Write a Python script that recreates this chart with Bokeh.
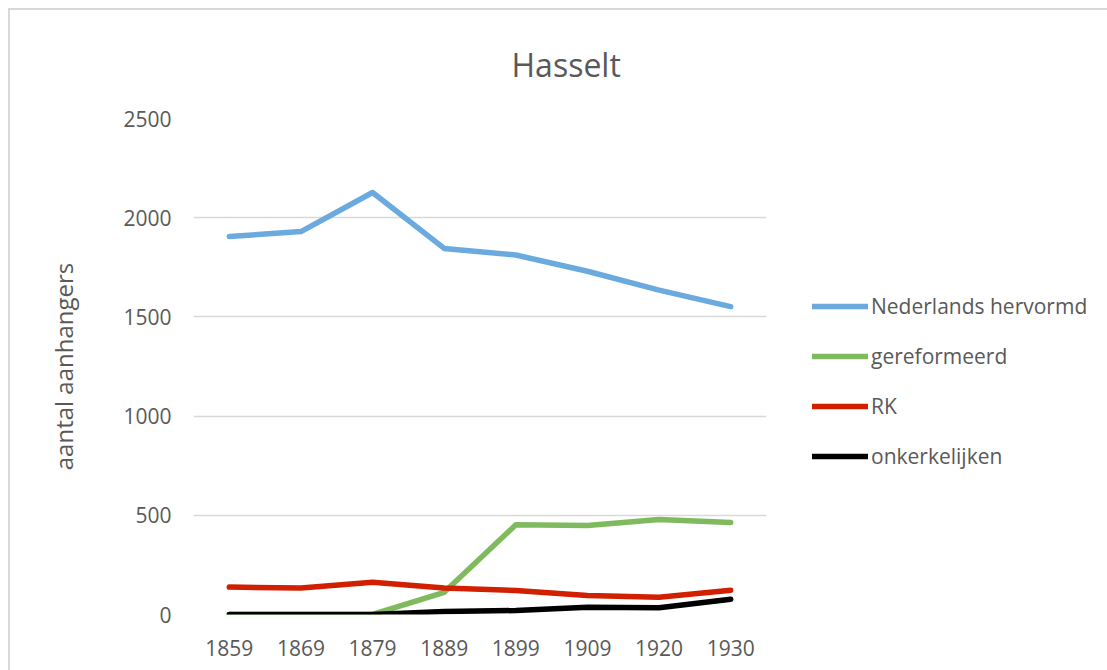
from bokeh.plotting import figure
from bokeh.models import FactorRange, Range1d, FixedTicker, Legend, LegendItem, Title
from bokeh.embed import file_html
from bokeh.resources import INLINE

years = ["1859", "1869", "1879", "1889", "1899", "1909", "1920", "1930"]
nederlands_hervormd = [1905, 1930, 2127, 1845, 1812, 1730, 1635, 1552]
gereformeerd = [0, 0, 0, 112, 452, 449, 479, 464]
rk = [138, 133, 163, 133, 121, 96, 87, 122]
onkerkelijken = [0, 0, 0, 15, 20, 37, 34, 77]
y_ticks = [0, 500, 1000, 1500, 2000, 2500]

series = [
    ("Nederlands hervormd", nederlands_hervormd, "#6aaadf"),
    ("gereformeerd", gereformeerd, "#7fbb5e"),
    ("RK", rk, "#d11f00"),
    ("onkerkelijken", onkerkelijken, "#000000"),
]

FONT = "Open Sans"
TXT = "#595959"
GRID = "#d9d9d9"

p = figure(
    frame_width=573, frame_height=496,
    x_range=FactorRange(*years),
    y_range=Range1d(0, 2500),
    output_backend="svg", toolbar_location=None,
    min_border_left=183, min_border_right=0,
    min_border_top=108, min_border_bottom=56,
)
p.styles = {"margin-top": "8px", "margin-left": "8px",
            "border-top": "2px solid #d9d9d9", "border-left": "2px solid #d9d9d9"}
p.outline_line_color = None
p.background_fill_color = "white"
p.border_fill_color = "white"

t = Title(text="Hasselt", align="left", offset=318, standoff=62,
          vertical_align="top",
          text_font=FONT, text_font_size="32px", text_font_style="normal",
          text_color=TXT)
p.add_layout(t, "above")

p.xgrid.grid_line_color = None
p.ygrid.grid_line_color = GRID
p.ygrid.grid_line_width = 1.5

p.yaxis.ticker = FixedTicker(ticks=y_ticks)
p.yaxis.axis_line_color = None
p.yaxis.major_tick_line_color = None
p.yaxis.minor_tick_line_color = None
p.yaxis.major_tick_out = 0
p.yaxis.major_tick_in = 0
p.yaxis.major_label_standoff = 22
p.yaxis.major_label_text_font = FONT
p.yaxis.major_label_text_font_size = "21px"
p.yaxis.major_label_text_color = TXT
p.yaxis.axis_label = "aantal aanhangers"
p.yaxis.axis_label_text_font = FONT
p.yaxis.axis_label_text_font_size = "24px"
p.yaxis.axis_label_text_font_style = "normal"
p.yaxis.axis_label_text_color = TXT
p.yaxis.axis_label_standoff = 40

p.xaxis.axis_line_color = None
p.xaxis.major_tick_line_color = None
p.xaxis.minor_tick_line_color = None
p.xaxis.major_tick_out = 0
p.xaxis.major_tick_in = 0
p.xaxis.major_label_standoff = 25
p.xaxis.major_label_text_font = FONT
p.xaxis.major_label_text_font_size = "21px"
p.xaxis.major_label_text_color = TXT

items = []
for name, vals, color in series:
    r = p.line(years, vals, line_color=color, line_width=5.5,
               line_cap="round", line_join="round")
    items.append(LegendItem(label=name, renderers=[r]))

legend = Legend(items=items, location=(46, 144), orientation="vertical",
                glyph_width=56, glyph_height=28, label_height=28,
                label_standoff=3, spacing=22, padding=0, margin=0,
                border_line_color=None, background_fill_alpha=0,
                label_text_font=FONT, label_text_font_size="21px",
                label_text_color=TXT)
p.add_layout(legend, "right")

open("out.html", "w").write(file_html(p, INLINE))
